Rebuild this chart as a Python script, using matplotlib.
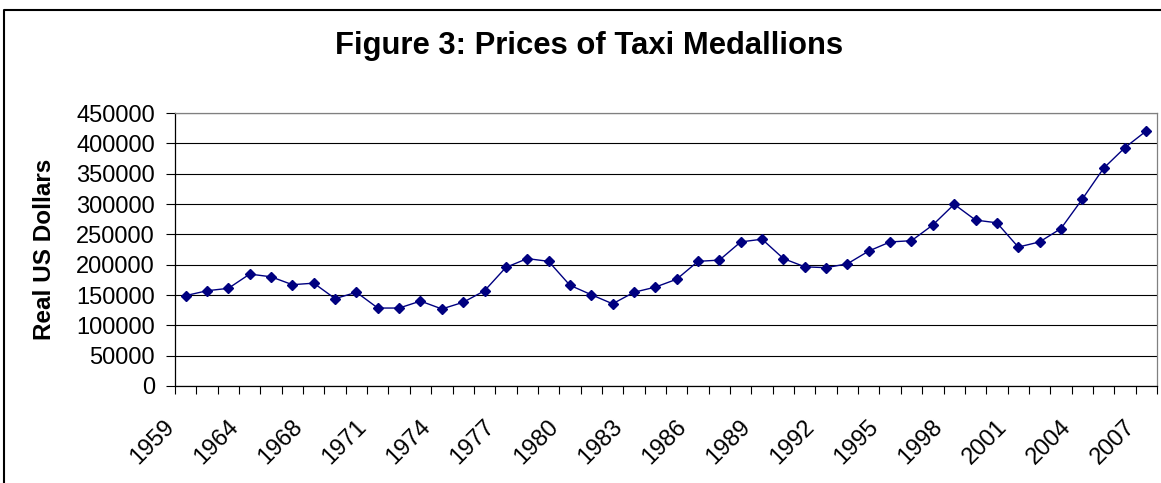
import numpy as np
import matplotlib.pyplot as plt
from matplotlib.lines import Line2D
from matplotlib.transforms import ScaledTranslation

plt.rcParams['font.family'] = ['Liberation Sans', 'DejaVu Sans']

# Data
years = [1959, 1960, 1962, 1964, 1965, 1966, 1968] + list(range(1969, 2008))
prices = [149000, 157000, 161000, 184500, 180000, 167000, 169500, 144000, 154500, 128500,
          128500, 140000, 127000, 138000, 157000, 195500, 210000, 205500, 166000, 150500,
          135500, 154500, 163000, 176000, 205500, 207500, 237500, 242000, 210000, 196500,
          195000, 201500, 222500, 237500, 239500, 265500, 299500, 273500, 269000, 229000,
          237500, 259500, 308000, 359000, 393000, 420500]
y_ticks = [0, 50000, 100000, 150000, 200000, 250000, 300000, 350000, 400000, 450000]

W, H = 1161, 483
fig = plt.figure(figsize=(W / 100, H / 100), dpi=100)

# Plot area placed in pixel units
left, right, top, bottom = 175, 1157, 113, 386
ax = fig.add_axes([left / W, (H - bottom) / H, (right - left) / W, (bottom - top) / H])

x = np.arange(len(years))
ax.plot(x, prices, color='#000080', lw=1.0, marker='D', markersize=5.5,
        markerfacecolor='#000080', markeredgecolor='#000080', zorder=3)

ax.set_xlim(-0.5, len(years) - 0.5)
ax.set_ylim(0, 450000)
ax.set_yticks(y_ticks)
ax.set_yticklabels([str(v) for v in y_ticks])
ax.yaxis.grid(True, color='black', lw=0.8)
ax.set_axisbelow(True)

# Category ticks between categories, labels every 3rd category
ax.set_xticks(np.arange(-0.5, len(years)), minor=True)
lab_idx = np.arange(0, len(years), 3)
ax.set_xticks(lab_idx)
ax.set_xticklabels([str(years[i]) for i in lab_idx], rotation=45, ha='right',
                   va='center', rotation_mode='anchor')
ax.tick_params(axis='x', which='minor', length=6, width=0.8, color='black')
ax.tick_params(axis='x', which='major', length=0, pad=27, labelsize=17)
ax.tick_params(axis='y', length=6.5, width=0.8, pad=8, labelsize=17)
shift = ScaledTranslation(-10.5 / 72, 0, fig.dpi_scale_trans)
for lab in ax.get_xticklabels():
    lab.set_transform(lab.get_transform() + shift)

for s in ['left', 'bottom']:
    ax.spines[s].set_color('black')
    ax.spines[s].set_linewidth(0.9)
for s in ['top', 'right']:
    ax.spines[s].set_color('#808080')
    ax.spines[s].set_linewidth(0.9)

ax.set_ylabel('Real US Dollars', fontsize=17.5, fontweight='bold')
ax.yaxis.set_label_coords(56 / W, (H - 249) / H, transform=fig.transFigure)

fig.text(589 / W, 1 - 54 / H, 'Figure 3: Prices of Taxi Medallions', ha='center',
         va='baseline', fontsize=22.3, fontweight='bold')

# Outer chart border (top and left visible)
fig.add_artist(Line2D([4 / W, 4 / W, 1.0], [0.0, 1 - 10 / H, 1 - 10 / H],
                      transform=fig.transFigure, color='black', lw=1.5))

fig.savefig('out.png', dpi=100)
